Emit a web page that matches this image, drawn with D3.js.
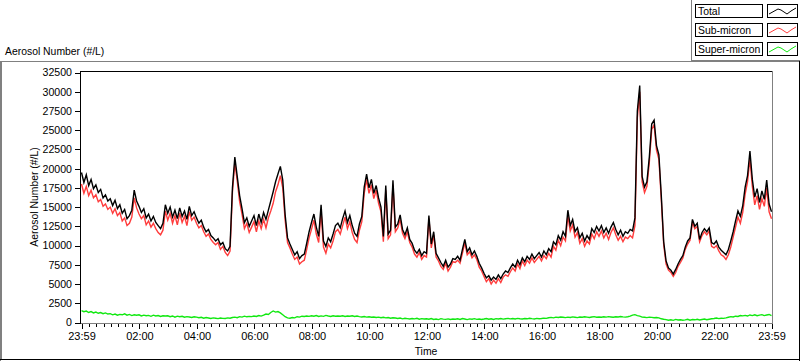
<!DOCTYPE html>
<html><head><meta charset="utf-8">
<script src="https://cdn.jsdelivr.net/npm/d3@7"></script>
<style>
html,body{margin:0;padding:0;background:#fff;}
svg{display:block;font-family:"Liberation Sans",Arial,sans-serif;}
</style></head><body>
<svg id="chart" width="800" height="361"></svg>
<script>
const seriesNames = ["Total", "Sub-micron", "Super-micron"];
const seriesColors = ["#000000", "#ff3c3c", "#10e810"];
const yTicks = [0,2500,5000,7500,10000,12500,15000,17500,20000,22500,25000,27500,30000,32500];
const xTickLabels = ["23:59","02:00","04:00","06:00","08:00","10:00","12:00","14:00","16:00","18:00","20:00","22:00","23:59"];
const startTime = Date.UTC(2000, 0, 1, 23, 59);
const stepMinutes = 5;

const total = [
19500,18200,19200,17800,18600,17400,17900,16900,17300,16200,16600,15800,
16100,15200,15900,14800,15300,14200,14700,13500,13900,14600,17200,15800,
15100,14300,14800,13600,14100,13200,13800,13000,12600,12200,12900,15300,
14200,15000,13700,14600,13500,14900,13800,14500,13400,15100,13900,14400,
13600,12900,13300,12400,11800,12100,11300,11000,10600,10900,10100,10400,
9600,9300,9900,17500,21500,19000,16500,14800,13000,13600,12500,13200,
13900,12600,14100,13000,14300,13400,14600,15800,17000,18300,19300,20300,
18500,14000,11000,10200,9500,8800,9200,8300,8700,8900,10300,11800,
13000,14100,12400,11200,15300,10600,9900,11000,10500,11500,12600,12900,
12300,13500,14500,13000,13900,12600,11600,11200,12800,13800,17600,19300,
17500,18600,16800,17800,16200,15000,11200,17800,11500,12000,18500,12400,
12800,14000,12100,11400,12300,10800,10300,9400,9000,9500,8700,9200,
9000,13900,10200,11800,9000,8400,7800,7300,8100,7200,7600,8300,
8200,8600,8100,9500,10800,9200,9700,8800,9300,8600,7700,7100,
6400,5800,6100,5500,5900,5600,6200,5700,6300,6700,6500,7100,
7600,7200,8100,7500,8400,7900,8600,8200,8900,8300,8700,9100,
8500,9300,8800,9600,9200,10500,10100,11300,10700,11800,11200,14600,
12600,13400,11800,12300,11000,11600,10600,11300,10800,12200,11700,12500,
11900,12600,11700,12300,11600,12400,13000,12100,11400,12000,11200,11800,
11600,12100,11900,13600,27500,30800,19000,17600,18300,21500,25800,26300,
23000,21800,16500,10500,8000,7100,6800,6300,6900,7600,8200,8700,
9800,10600,11000,13400,12500,12900,10800,11700,12200,11800,12300,10400,
10200,10600,9800,9400,9100,8800,9500,10600,11800,13200,14500,13800,
15200,17600,19100,22300,18600,16300,17400,15600,17100,16000,18500,15400,
14400];

const subMicron = [
18000,16800,17700,16500,17200,16200,16600,15700,16000,15100,15400,14700,
15000,14200,14800,13900,14300,13200,13600,12600,12900,13700,16200,14900,
14100,13500,13900,12700,13200,12400,12900,12200,11700,11400,12000,14500,
13300,14200,12900,13900,12700,14200,13000,13800,12600,14400,13300,13700,
12900,12300,12600,11800,11200,11500,10800,10400,10100,10400,9500,9900,
9100,8700,9300,16900,20800,18400,15700,14100,12200,12900,11700,12400,
13100,11800,13200,12200,13400,12300,13600,14500,15500,17000,17900,19100,
17500,13300,10400,9700,8900,8200,8500,7600,7900,8100,9500,11000,
12100,13300,11500,10400,14400,9800,9000,10200,9700,10600,11800,12100,
11500,12600,13700,12200,13100,11700,10800,10400,12000,13100,16800,18600,
16800,17900,16100,17200,15500,14400,10500,17200,10900,11400,17900,11800,
12300,13400,11600,10900,11800,10400,9800,8900,8500,9100,8200,8700,
8500,13500,9700,11400,8500,8000,7300,6900,7700,6700,7200,7900,
7800,8100,7700,9000,10400,8800,9200,8400,8800,8200,7200,6700,
6000,5300,5700,5000,5500,5100,5700,5200,5900,6200,6000,6600,
7100,6700,7600,7000,8000,7400,8100,7700,8400,7800,8200,8600,
8000,8700,8300,9000,8500,9900,9400,10700,10000,11100,10600,13900,
11900,12700,11100,11700,10300,10900,9900,10600,10200,11500,10900,11800,
11200,11900,11000,11600,10800,11700,12300,11400,10700,11200,10500,11100,
10900,11300,11000,12600,26600,30000,18300,16900,17700,20800,25100,25700,
22400,21200,16000,10100,7600,6800,6500,6000,6500,7300,7800,8400,
9500,10200,10700,13000,12200,12500,10500,11300,11800,11400,11900,9900,
9700,10000,9300,8800,8600,8200,8800,9800,11100,12400,13700,12900,
14300,16700,18300,21300,17700,15300,16500,14700,16100,15100,17500,14400,
13500];

const superMicron = [
1550,1400,1480,1300,1420,1250,1350,1200,1300,1150,1250,1100,
1150,1000,1100,950,1050,1000,1120,950,1050,900,1000,950,
1000,850,950,880,920,800,950,850,900,780,880,850,
880,760,850,700,820,750,800,680,760,720,650,740,
700,620,680,560,640,580,520,600,550,500,580,540,
520,600,560,650,700,620,760,700,820,740,800,760,
850,780,900,830,950,1100,1050,1300,1500,1350,1420,1250,
1000,750,600,550,650,600,750,700,820,780,850,800,
880,820,900,780,860,800,920,840,780,870,810,850,
820,880,790,850,810,870,780,840,760,720,780,700,
740,680,720,650,700,620,680,600,640,560,620,580,
520,580,480,550,500,450,520,470,540,430,500,460,
480,420,520,400,460,380,500,440,410,470,390,450,
420,480,400,520,450,380,470,430,500,410,460,390,
450,520,430,480,400,500,460,520,440,490,530,470,
510,460,540,490,450,520,480,550,500,460,530,490,
520,570,540,620,660,600,700,650,720,680,640,700,
660,730,690,640,720,680,750,700,650,710,760,690,
720,680,740,700,760,720,680,750,710,770,730,700,
750,820,950,1020,900,820,700,680,640,700,660,620,
650,600,480,420,380,300,350,280,400,320,360,300,
340,420,300,380,350,420,330,390,450,360,420,480,
520,580,500,560,540,600,680,760,720,820,780,900,
860,920,840,980,900,1000,880,950,1020,900,970,1040,
880];

const svg = d3.select("#chart");
const endTime = startTime + 24 * 60 * 60000;
const times = total.map((_, i) => new Date(startTime + i * stepMinutes * 60000));

const x = d3.scaleUtc().domain([new Date(startTime), new Date(endTime)]).range([81.5, 771.5]);
const y = d3.scaleLinear().domain([0, 32500]).range([322.5, 72.5]);

// outer frame
svg.append("rect").attr("x",0).attr("y",0).attr("width",800).attr("height",361).attr("fill","#fff");
svg.append("line").attr("x1",0).attr("x2",800).attr("y1",61.5).attr("y2",61.5).attr("stroke","#808080");
svg.append("line").attr("x1",692).attr("x2",800).attr("y1",60.5).attr("y2",60.5).attr("stroke","#808080");
svg.append("line").attr("x1",691.5).attr("x2",691.5).attr("y1",0).attr("y2",61).attr("stroke","#808080");
svg.append("line").attr("x1",0.5).attr("x2",0.5).attr("y1",61).attr("y2",361).attr("stroke","#808080");
svg.append("line").attr("x1",1.5).attr("x2",1.5).attr("y1",62).attr("y2",359).attr("stroke","#808080");
svg.append("line").attr("x1",0).attr("x2",800).attr("y1",359.5).attr("y2",359.5).attr("stroke","#000");
svg.append("line").attr("x1",799.5).attr("x2",799.5).attr("y1",61).attr("y2",361).attr("stroke","#000");

// title
svg.append("text").attr("x",5).attr("y",55).attr("font-size","10.4px").attr("fill","#000").text("Aerosol Number (#/L)");

// plot frame
svg.append("line").attr("x1",80).attr("x2",773).attr("y1",71.5).attr("y2",71.5).attr("stroke","#000");
svg.append("line").attr("x1",772.5).attr("x2",772.5).attr("y1",71).attr("y2",324).attr("stroke","#808080");
svg.append("line").attr("x1",80).attr("x2",773).attr("y1",323.5).attr("y2",323.5).attr("stroke","#808080");
svg.append("line").attr("x1",80.5).attr("x2",80.5).attr("y1",71).attr("y2",324).attr("stroke","#000");

// y axis
const yAxis = svg.append("g").attr("transform","translate(80,0)")
  .call(d3.axisLeft(y).tickValues(yTicks).tickSize(5).tickSizeOuter(0).tickPadding(3).tickFormat(d3.format("d")));
yAxis.select(".domain").remove();
yAxis.selectAll("text").attr("font-size","10.6px").attr("font-family","Liberation Sans, Arial, sans-serif").attr("fill","#000");
yAxis.selectAll("line").attr("stroke","#000").attr("shape-rendering","crispEdges");

// x axis
const xTickDates = xTickLabels.map((lab, i) => {
  if (i === 0) return new Date(startTime);
  if (i === xTickLabels.length - 1) return new Date(endTime);
  const [h, m] = lab.split(":").map(Number);
  return new Date(Date.UTC(2000, 0, 2, h, m));
});
const xAxis = svg.append("g").attr("transform","translate(0,324)")
  .call(d3.axisBottom(x).tickValues(xTickDates).tickSize(5).tickSizeOuter(0).tickPadding(3)
    .tickFormat((d, i) => xTickLabels[i]));
xAxis.select(".domain").remove();
xAxis.selectAll("text").attr("font-size","11px").attr("font-family","Liberation Sans, Arial, sans-serif").attr("fill","#000");
xAxis.selectAll("line").attr("stroke","#000").attr("shape-rendering","crispEdges");

const minorDates = [];
for (let q = 1; q < 96; q++) {
  if (q % 8 === 0) continue;
  minorDates.push(new Date(Date.UTC(2000, 0, 2, 0, q * 15)));
}
const xMinor = svg.append("g").attr("transform","translate(0,324)")
  .call(d3.axisBottom(x).tickValues(minorDates).tickSize(3).tickSizeOuter(0).tickFormat(""));
xMinor.select(".domain").remove();
xMinor.selectAll("line").attr("stroke","#000").attr("shape-rendering","crispEdges");

// axis titles
svg.append("text").attr("transform","translate(38,197) rotate(-90)").attr("text-anchor","middle")
  .attr("font-size","10.4px").attr("fill","#000").text("Aerosol Number (#/L)");
svg.append("text").attr("x",426).attr("y",355).attr("text-anchor","middle")
  .attr("font-size","10.4px").attr("fill","#000").text("Time");

// data
const seriesData = [total, subMicron, superMicron];
const line = d3.line().x((d, i) => x(times[i])).y(d => y(d));
const plot = svg.append("g");
[2, 1, 0].forEach(s => {
  plot.append("path").datum(seriesData[s]).attr("d", line)
    .attr("fill","none").attr("stroke", seriesColors[s]).attr("stroke-width", 1.4)
    .attr("stroke-linejoin","miter");
});

// legend
const legendRows = [4, 23, 42];
const glyph = [[2,9],[11,4],[14,5],[20,9],[24,6],[29,3]];
seriesNames.forEach((name, i) => {
  const g = svg.append("g").attr("transform", `translate(0,${legendRows[i]})`);
  g.append("rect").attr("x",695.5).attr("y",0.5).attr("width",67).attr("height",13)
    .attr("fill","#fff").attr("stroke","#000");
  g.append("text").attr("x",698).attr("y",11).attr("font-size","10.4px").attr("fill","#000").text(name);
  g.append("rect").attr("x",767.5).attr("y",0.5).attr("width",30).attr("height",13)
    .attr("fill","#fff").attr("stroke","#000");
  g.append("path").attr("d", d3.line()(glyph.map(p => [767 + p[0], p[1] + 1])))
    .attr("fill","none").attr("stroke", seriesColors[i]).attr("stroke-width",1);
});
</script>
</body></html>
